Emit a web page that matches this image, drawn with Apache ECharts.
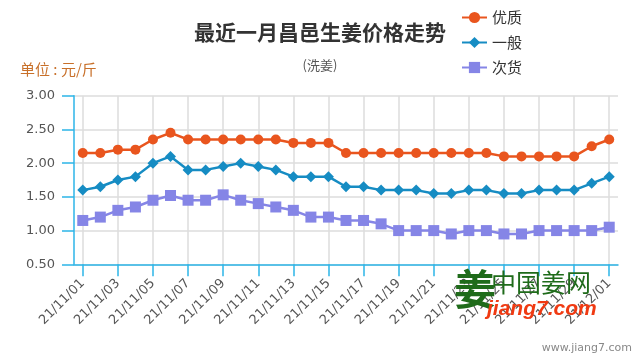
<!DOCTYPE html>
<html>
<head>
<meta charset="utf-8">
<script src="https://cdn.jsdelivr.net/npm/echarts@6/dist/echarts.min.js"></script>
<style>html,body{margin:0;padding:0;background:#fff}#c{width:640px;height:360px}</style>
</head>
<body>
<div id="c"></div>
<script>
var categories = ['21/11/01','21/11/02','21/11/03','21/11/04','21/11/05','21/11/06','21/11/07','21/11/08','21/11/09','21/11/10',
  '21/11/11','21/11/12','21/11/13','21/11/14','21/11/15','21/11/16','21/11/17','21/11/18','21/11/19','21/11/20',
  '21/11/21','21/11/22','21/11/23','21/11/24','21/11/25','21/11/26','21/11/27','21/11/28','21/11/29','21/11/30','21/12/01'];
var premium = [2.15,2.15,2.2,2.2,2.35,2.45,2.35,2.35,2.35,2.35,2.35,2.35,2.3,2.3,2.3,2.15,2.15,2.15,2.15,2.15,2.15,2.15,2.15,2.15,2.1,2.1,2.1,2.1,2.1,2.25,2.35];
var normal = [1.6,1.65,1.75,1.8,2.0,2.1,1.9,1.9,1.95,2.0,1.95,1.9,1.8,1.8,1.8,1.65,1.65,1.6,1.6,1.6,1.55,1.55,1.6,1.6,1.55,1.55,1.6,1.6,1.6,1.7,1.8];
var inferior = [1.15,1.2,1.3,1.35,1.45,1.52,1.45,1.45,1.53,1.45,1.4,1.35,1.3,1.2,1.2,1.15,1.15,1.1,1.0,1.0,1.0,0.95,1.0,1.0,0.95,0.95,1.0,1.0,1.0,1.0,1.05];
var seriesNames = ['优质','一般','次货'];

var axisBlue = '#2cb5e8';
var chart = echarts.init(document.getElementById('c'), null, {renderer:'canvas'});
chart.setOption({
  animation: false,
  backgroundColor: '#fff',
  title: {
    text: '最近一月昌邑生姜价格走势',
    subtext: '(洗姜)',
    left: 315, top: 17, textAlign: 'center',
    itemGap: 16,
    textStyle: {fontSize: 21, fontWeight: 'bold', color: '#333', fontFamily: 'Noto Sans CJK SC'},
    subtextStyle: {fontSize: 13, color: '#555', fontFamily: 'Noto Sans CJK SC'}
  },
  legend: {
    orient: 'vertical', left: 456, top: 5, itemGap: 10, itemWidth: 25, itemHeight: 14,
    textStyle: {fontSize: 15, color: '#333', fontFamily: 'Noto Sans CJK SC'},
    data: seriesNames
  },
  grid: {left: 74, right: 22, top: 95.7, bottom: 95.7, containLabel: false},
  xAxis: {
    type: 'category', data: categories, boundaryGap: true,
    axisLine: {lineStyle: {color: axisBlue, width: 1.5}},
    axisTick: {show: true, interval: 1, alignWithLabel: true, length: 12, lineStyle: {color: axisBlue, width: 1.5}},
    axisLabel: {interval: 1, rotate: 45, fontSize: 13, color: '#555', fontFamily: 'DejaVu Sans', margin: 17},
    splitLine: {show: true, interval: 1, alignWithLabel: true, lineStyle: {color: '#dcdcdc', width: 1.5}}
  },
  yAxis: {
    type: 'value', min: 0.5, max: 3.0, interval: 0.5,
    axisLine: {show: true, lineStyle: {color: axisBlue, width: 1.5}},
    axisTick: {show: true, length: 12, lineStyle: {color: axisBlue, width: 1.5}},
    axisLabel: {fontSize: 13, color: '#555', fontFamily: 'DejaVu Sans', margin: 19, formatter: function(v){return v.toFixed(2);}},
    splitLine: {show: true, lineStyle: {color: '#dcdcdc', width: 1.5}}
  },
  series: [
    {name: seriesNames[0], type: 'line', data: premium, symbol: 'circle', symbolSize: 10,
     itemStyle: {color: '#e9551e'}, lineStyle: {width: 2.5, color: '#e9551e'}},
    {name: seriesNames[1], type: 'line', data: normal, symbol: 'diamond', symbolSize: 11,
     itemStyle: {color: '#168cc3'}, lineStyle: {width: 2.5, color: '#168cc3'}},
    {name: seriesNames[2], type: 'line', data: inferior, symbol: 'rect', symbolSize: 11,
     itemStyle: {color: '#8585e6'}, lineStyle: {width: 2.5, color: '#8585e6'}}
  ],
  graphic: [
    {type: 'text', left: 20, top: 62, style: {text: '单位 : 元/斤', fontSize: 15, fill: '#c8702a', fontFamily: 'Noto Sans CJK SC'}},
    {type: 'text', z: 100, left: 454, top: 268, style: {text: '姜', fontSize: 42, fontWeight: 'bold', fill: '#1f6b1a', fontFamily: 'Noto Sans CJK SC'}},
    {type: 'text', z: 100, left: 491, top: 270, style: {text: '中国姜网', fontSize: 25, fill: '#1f6b1a', fontFamily: 'Noto Sans CJK SC'}},
    {type: 'text', z: 100, left: 487, top: 299, style: {text: 'jiang7.com', fontSize: 21, fontWeight: 'bold', fontStyle: 'italic', fill: '#f03a12', fontFamily: 'Liberation Sans'}},
    {type: 'text', z: 100, right: 8, top: 343, style: {text: 'www.jiang7.com', fontSize: 11, fill: '#888', fontFamily: 'DejaVu Sans'}}
  ]
});
</script>
</body>
</html>
